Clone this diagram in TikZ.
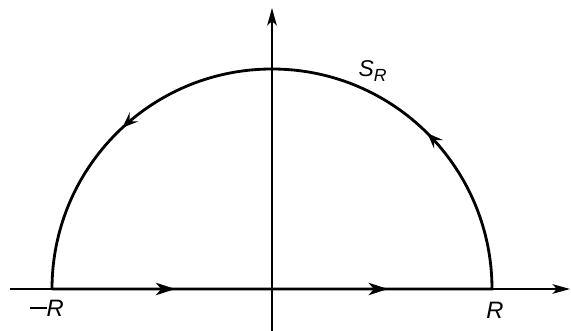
\documentclass[tikz,border=0pt]{standalone}
\usepackage{fontspec}
\setmainfont{Liberation Sans}
\usetikzlibrary{arrows.meta,decorations.markings}

\begin{document}
\begin{tikzpicture}[
  x=0.02cm,
  y=0.02cm,
  axis/.style={
      line width=0.7pt,
      -{Stealth[length=10pt,width=5.5pt,inset=2.5pt]}
  },
  contour/.style={
      line width=1.6pt,
      postaction={decorate},
      decoration={markings,
        mark=at position 0.109 with {\arrow{Stealth[length=11pt,width=7pt,inset=3pt]}},
        mark=at position 0.297 with {\arrow{Stealth[length=11pt,width=7pt,inset=3pt]}},
        mark=at position 0.542 with {\arrow{Stealth[length=9pt,width=7pt,inset=3.5pt]}},
        mark=at position 0.840 with {\arrow{Stealth[length=9pt,width=7pt,inset=3.5pt]}}
      }
  },
  lbl/.style={
      font=\fontsize{13.5}{16}\selectfont\itshape,
      inner sep=0pt
  }
]

\useasboundingbox (-272,-42) rectangle (299,289);

% ==================================================
% Axes
% ==================================================

\coordinate (O) at (0,0);
\coordinate (xstart) at (-262,0);
\coordinate (xend) at (298,0);
\coordinate (ybottom) at (0,-42);
\coordinate (ytop) at (0,281);

\draw[axis] (xstart) -- (xend);
\draw[axis] (ybottom) -- (ytop);

% ==================================================
% Contour
% ==================================================

\coordinate (mR) at (-220,0);
\coordinate (pR) at (220,0);

\draw[contour]
(mR) -- (pR)
arc[start angle=0, end angle=180, radius=220];

% ==================================================
% Labels
% ==================================================

\node[lbl] (lblmR) at (-225,-19) {\rule[0.32em]{0.7em}{0.06em}R};
\node[lbl] (lblpR) at (223,-21) {R};
\node[lbl, font=\fontsize{13}{15}\selectfont\itshape] (lblSR) at (101,218)
{S\textsubscript{\fontsize{10}{12}\selectfont R}};

\end{tikzpicture}
\end{document}
